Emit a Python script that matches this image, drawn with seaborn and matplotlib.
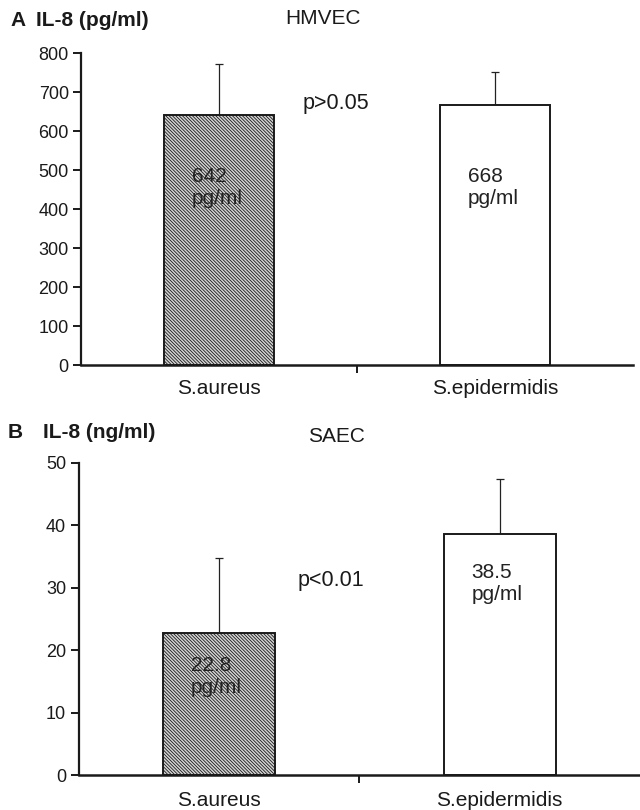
import pandas as pd
import seaborn as sns
import matplotlib.pyplot as plt
from matplotlib.ticker import FixedLocator

# Data
strains = ["S.aureus", "S.epidermidis"]
hmvec_mean = [642, 668]
hmvec_sd = [130, 84]
saec_mean = [22.8, 38.5]
saec_sd = [12.0, 8.9]
hmvec_labels = ["642\npg/ml", "668\npg/ml"]
saec_labels = ["22.8\npg/ml", "38.5\npg/ml"]

sns.set_theme(style="ticks")
plt.rcParams["font.family"] = ["Liberation Sans", "DejaVu Sans"]
plt.rcParams["hatch.linewidth"] = 0.6
plt.rcParams["hatch.color"] = "#2a2a2a"
plt.rcParams["text.color"] = "#1a1a1a"
plt.rcParams["xtick.color"] = "#1a1a1a"
plt.rcParams["ytick.color"] = "#1a1a1a"
plt.rcParams["axes.edgecolor"] = "#1a1a1a"

BIG = 15


def draw_panel(ax, means, sds, labels, ylim, yticks, label_y, xpad):
    df = pd.DataFrame({"strain": strains, "value": means})
    sns.barplot(data=df, x="strain", y="value", ax=ax, width=0.4,
                color="white", edgecolor="#1a1a1a", linewidth=1.4, errorbar=None)
    bars = ax.patches
    bars[0].set_facecolor("#d4d4d4")
    bars[0].set_hatch("\\" * 10)
    xs = [b.get_x() + b.get_width() / 2 for b in bars]
    ax.errorbar(xs, means, yerr=[[0, 0], sds], fmt="none", ecolor="#222222",
                elinewidth=0.9, capsize=3.2, capthick=0.9, zorder=0)
    for x, lab, ly in zip(xs, labels, label_y):
        ax.text(x - 0.1, ly, lab, ha="left", va="center", fontsize=BIG,
                color="#222222", linespacing=1.2)
    ax.set_xlim(-0.5, 1.5)
    ax.set_ylim(*ylim)
    ax.set_yticks(yticks)
    ax.set_xlabel("")
    ax.set_ylabel("")
    ax.xaxis.set_minor_locator(FixedLocator([0.5]))
    ax.tick_params(axis="x", which="major", length=0, pad=xpad, labelsize=BIG)
    ax.tick_params(axis="x", which="minor", length=6, width=1.4, direction="out")
    ax.tick_params(axis="y", length=6, width=1.4, direction="out",
                   labelsize=13, pad=3)
    sns.despine(ax=ax)
    ax.spines["left"].set_linewidth(1.6)
    ax.spines["bottom"].set_linewidth(1.8)


fig = plt.figure(figsize=(6.4, 8.1), dpi=100)

ax1 = fig.add_axes([0.127, 0.549, 0.8625, 0.385])
draw_panel(ax1, hmvec_mean, hmvec_sd, hmvec_labels, (0, 800),
           range(0, 801, 100), [457, 457], 10)

ax2 = fig.add_axes([0.123, 0.043, 0.877, 0.386])
draw_panel(ax2, saec_mean, saec_sd, saec_labels, (0, 50),
           range(0, 51, 10), [15.8, 30.7], 11.5)

ax1.text(0.30, 672, "p>0.05", fontsize=15.5, ha="left", va="center")
ax2.text(0.28, 31.1, "p<0.01", fontsize=15.5, ha="left", va="center")

fig.text(10 / 640, 1 - 20 / 810, "A", fontsize=BIG, fontweight="bold", va="center")
fig.text(36 / 640, 1 - 20 / 810, "IL-8 (pg/ml)", fontsize=BIG,
         fontweight="bold", va="center")
fig.text(285 / 640, 1 - 18 / 810, "HMVEC", fontsize=BIG, va="center")

fig.text(8 / 640, 1 - 432 / 810, "B", fontsize=BIG, fontweight="bold", va="center")
fig.text(43 / 640, 1 - 432 / 810, "IL-8 (ng/ml)", fontsize=BIG,
         fontweight="bold", va="center")
fig.text(308 / 640, 1 - 436 / 810, "SAEC", fontsize=BIG, va="center")

fig.savefig("out.png", dpi=100)
